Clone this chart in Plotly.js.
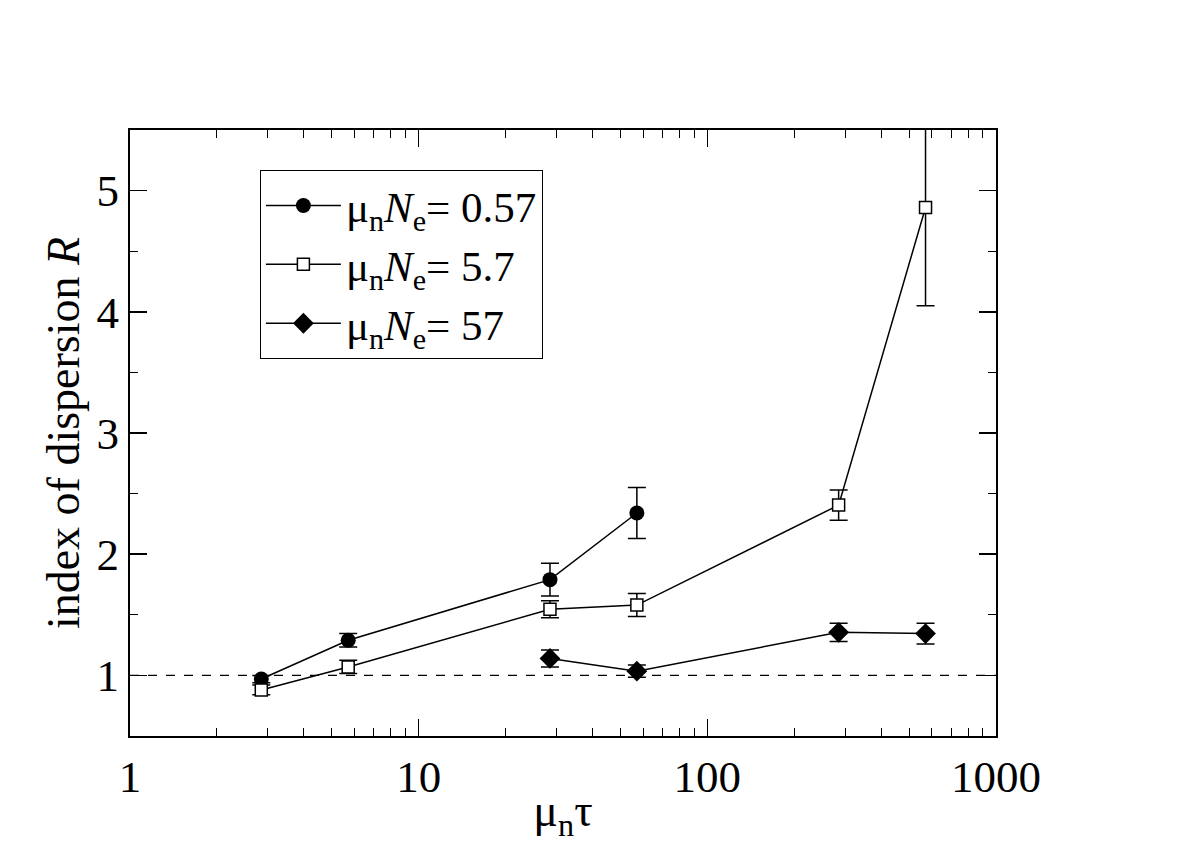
<!DOCTYPE html>
<html>
<head>
<meta charset="utf-8">
<script src="https://cdn.plot.ly/plotly-3.0.1.min.js"></script>
<style>
  html, body { margin: 0; padding: 0; background: #fff; }
  #chart { width: 1193px; height: 843px; }
</style>
</head>
<body>
<div id="chart"></div>
<script>
// index of dispersion R vs mu_n tau, three mu_n N_e values
const tauA = [2.85, 5.7, 28.5, 57];
const rA   = [0.97, 1.29, 1.79, 2.34];
const eA   = [0.03, 0.055, 0.135, 0.21];

const tauB = [2.85, 5.7, 28.5, 57, 285, 570];
const rB   = [0.88, 1.07, 1.545, 1.58, 2.405, 4.86];
const eB   = [0.04, 0.055, 0.07, 0.095, 0.125, 0.81];

const tauC = [28.5, 57, 285, 570];
const rC   = [1.14, 1.035, 1.355, 1.345];
const eC   = [0.07, 0.05, 0.075, 0.085];

const names = [
  "μ<sub>n</sub><i>N</i><sub>e</sub>= 0.57",
  "μ<sub>n</sub><i>N</i><sub>e</sub>= 5.7",
  "μ<sub>n</sub><i>N</i><sub>e</sub>= 57",
];

const SERIF = '"Liberation Serif", "Times New Roman", serif';

function errBars(arr) {
  return { type: "data", array: arr, visible: true, color: "#000", thickness: 1.5, width: 9 };
}

const traces = [
  {
    x: tauA, y: rA, name: names[0], mode: "lines+markers", type: "scatter",
    line: { color: "#000", width: 1.5 },
    marker: { symbol: "circle", size: 15, color: "#000" },
    error_y: errBars(eA),
  },
  {
    x: tauB, y: rB, name: names[1], mode: "lines+markers", type: "scatter",
    line: { color: "#000", width: 1.5 },
    marker: { symbol: "square", size: 12, color: "#fff", line: { color: "#000", width: 1.5 } },
    error_y: errBars(eB),
  },
  {
    x: tauC, y: rC, name: names[2], mode: "lines+markers", type: "scatter",
    line: { color: "#000", width: 1.5 },
    marker: { symbol: "diamond", size: 16, color: "#000" },
    error_y: errBars(eC),
  },
];

const axisBase = {
  showline: true, linecolor: "#000", linewidth: 2, mirror: "allticks",
  ticks: "inside", ticklen: 17, tickwidth: 1.5, tickcolor: "#000",
  showgrid: false, zeroline: false,
  tickfont: { family: SERIF, size: 45, color: "#000" },
};

const layout = {
  width: 1193, height: 843,
  paper_bgcolor: "#fff", plot_bgcolor: "#fff",
  margin: { l: 130, r: 197, t: 130, b: 107 },
  font: { family: SERIF, color: "#000" },
  showlegend: true,
  legend: {
    x: 0.15, y: 0.934, xanchor: "left", yanchor: "top",
    bordercolor: "#000", borderwidth: 1, bgcolor: "#fff",
    font: { family: SERIF, size: 43, color: "#000" },
    itemwidth: 75, tracegroupgap: 0,
  },
  xaxis: {
    ...axisBase,
    type: "log", range: [0, 3],
    tickvals: [1, 10, 100, 1000], ticktext: ["1", "10", "100", "1000"],
    minor: { ticks: "inside", ticklen: 8, tickwidth: 1, tickcolor: "#000", dtick: "D1" },
    title: { text: "μ<sub>n</sub>τ", font: { family: SERIF, size: 46, color: "#000" }, standoff: 0 },
  },
  yaxis: {
    ...axisBase,
    range: [0.5, 5.5],
    tickvals: [1, 2, 3, 4, 5],
    minor: { ticks: "inside", ticklen: 8, tickwidth: 1, tickcolor: "#000", dtick: 0.5 },
    title: { text: "index of dispersion <i>R</i>", font: { family: SERIF, size: 46, color: "#000" }, standoff: 2 },
  },
  shapes: [{
    type: "line", xref: "paper", yref: "y", x0: 0, x1: 1, y0: 1, y1: 1,
    line: { color: "#000", width: 1.2, dash: "dash" }, layer: "below",
  }],
};

Plotly.newPlot("chart", traces, layout, { displayModeBar: false, staticPlot: true });
</script>
</body>
</html>
